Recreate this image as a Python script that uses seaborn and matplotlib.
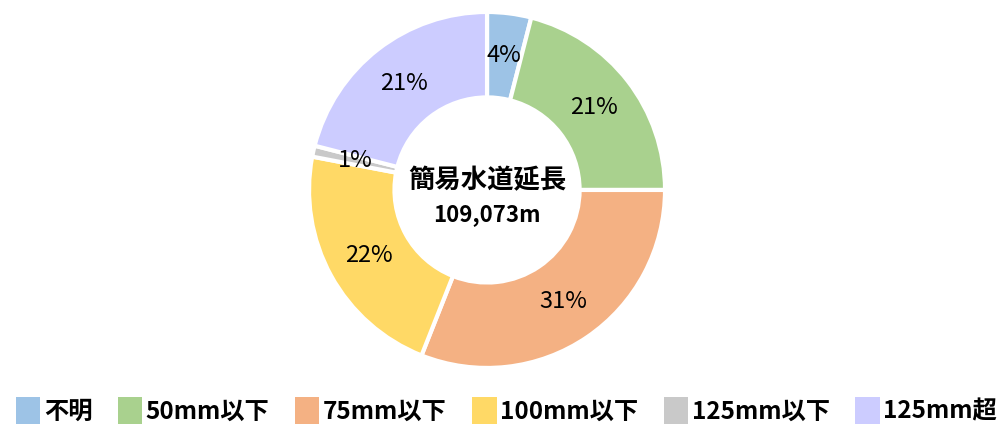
import seaborn as sns
from matplotlib import pyplot as plt
from matplotlib.patches import Patch

categories = ['不明', '50mm以下', '75mm以下', '100mm以下', '125mm以下', '125mm超']
shares = [4, 21, 31, 22, 1, 21]
colors = ['#9DC3E6', '#A9D18E', '#F4B183', '#FFD966', '#C9C9C9', '#CCCCFF']
center_title = '簡易水道延長'
center_total = '109,073m'

sns.set_theme(style='white')
plt.rcParams['font.family'] = ['Noto Sans CJK JP', 'DejaVu Sans']
plt.rcParams['text.color'] = 'black'
palette = sns.color_palette(colors)

fig = plt.figure(figsize=(10.07, 4.29), dpi=100)
ax = fig.add_axes([0.3069, 0.1422, 0.3535, 0.830])

wedges, texts, autotexts = ax.pie(
    shares, colors=palette, startangle=90, counterclock=False,
    autopct=lambda p: f'{p:.0f}%', pctdistance=0.76, radius=1.0,
    wedgeprops=dict(width=0.48, edgecolor='white', linewidth=3),
    textprops=dict(fontsize=17, color='black'))
ax.set_xlim(-1, 1)
ax.set_ylim(-1, 1)
ax.set_aspect('equal')
ax.axis('off')

ax.text(0, 0.05, center_title, ha='center', va='center', fontsize=19, fontweight='bold', color='black')
ax.text(0, -0.14, center_total, ha='center', va='center', fontsize=16, fontweight='bold', color='black')

handles = [Patch(facecolor=c, edgecolor='none', label=l) for c, l in zip(palette, categories)]
leg = fig.legend(handles=handles, loc='lower center', bbox_to_anchor=(0.503, -0.04), ncol=6,
                 frameon=False, handlelength=1.0, handleheight=1.35,
                 handletextpad=0.15, columnspacing=1.05, prop=dict(weight='bold', size=17.5))
for t in leg.get_texts():
    t.set_color('black')

fig.savefig('out.png', dpi=100)
